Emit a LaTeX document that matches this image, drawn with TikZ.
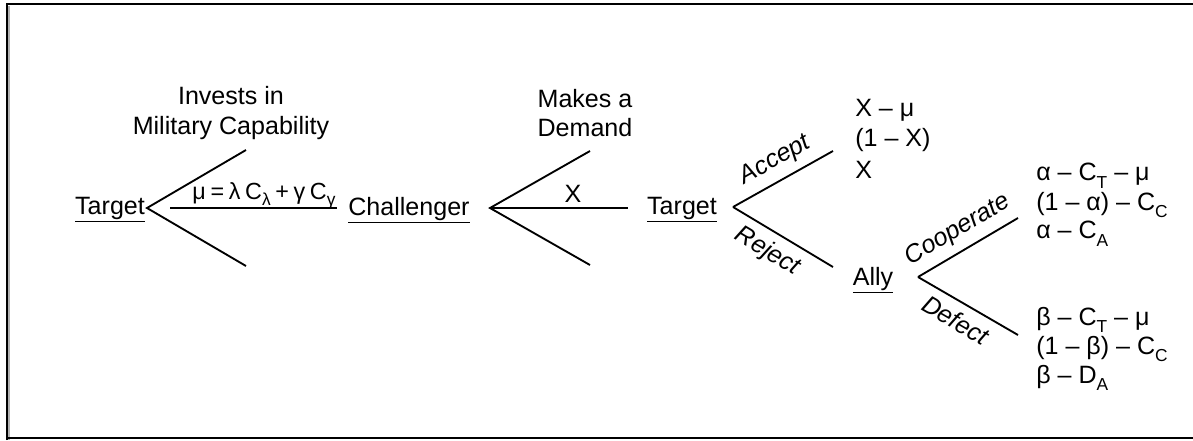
\documentclass[tikz,border=0pt]{standalone}
\usepackage{fontspec}
\setmainfont{Liberation Sans}
\newcommand\ssub[1]{\raisebox{-0.3em}{\fontsize{13}{13}\selectfont #1}}
\begin{document}
\begin{tikzpicture}[x=0.75pt,y=-0.75pt,
  br/.style={line width=1.4pt},
  hl/.style={line width=0.8pt},
  txt/.style={font=\fontsize{18.8}{22}\selectfont, inner sep=0pt},
  player/.style={txt},
  lbl/.style={txt, align=center},
  pay/.style={txt, anchor=west},
  act/.style={font=\fontsize{18.8}{22}\selectfont\itshape, inner sep=6pt}]
\useasboundingbox (0,0) rectangle (1193,440);
\fill[white] (0,0) rectangle (1193,440);
\draw[gray!60, line width=2pt] (8.5,5.5) -- (8.5,439.5);
\draw[line width=1.6pt] (7,440) -- (7,4) -- (1200,4);
\draw[line width=1.6pt] (7,438) -- (1200,438);

% players
\node[player] (t1) at (110,210) {\underline{Target}};
\node[player] (ch) at (409,210) {\underline{Challenger}};
\node[player] (t2) at (682,210) {\underline{Target}};
\node[player] (al) at (873,280) {\underline{Ally}};

% fork 1
\coordinate (f1) at (147,208);
\coordinate (f1u) at (246,150);
\coordinate (f1d) at (246,266);
\coordinate (h1a) at (170,208);
\coordinate (h1b) at (337,208);
\draw[br] (f1u) -- (f1) -- (f1d);
\draw[hl] (h1a) -- (h1b);
\node[txt, font=\fontsize{17.5}{20}\selectfont] (m1) at (264,196)
  {μ\hspace{0.2em}=\hspace{0.2em}λ\hspace{0.2em}C{\fontsize{16}{16}\selectfont\ssub{λ}}\hspace{0.2em}+\hspace{0.2em}γ\hspace{0.2em}C{\fontsize{16}{16}\selectfont\ssub{γ}}};
\node[lbl] (l1) at (231,113) {Invests in\\Military Capability};

% fork 2
\coordinate (f2) at (490,208);
\coordinate (f2u) at (590,151);
\coordinate (f2d) at (590,265);
\coordinate (h2b) at (628,208);
\draw[br] (f2u) -- (f2) -- (f2d);
\draw[hl] (f2) -- (h2b);
\node[txt] (xl) at (573,194) {X};
\node[lbl] (l2) at (585,113) {Makes a\\Demand};

% fork 3
\coordinate (f3) at (733,207);
\coordinate (f3u) at (833,151);
\coordinate (f3d) at (833,267);
\draw[br] (f3) -- node[act, sloped, above, pos=0.52] (acc) {Accept} (f3u);
\draw[br] (f3) -- node[act, sloped, below, pos=0.45] (rej) {Reject} (f3d);
\node[pay] (p1a) at (855,110) {X – μ};
\node[pay] (p1b) at (855,140) {(1 – X)};
\node[pay] (p1c) at (855,170) {X};

% fork 4
\coordinate (f4) at (918,277);
\coordinate (f4u) at (1018,218);
\coordinate (f4d) at (1018,335);
\draw[br] (f4) -- node[act, sloped, above, pos=0.5] (coo) {Cooperate} (f4u);
\draw[br] (f4) -- node[act, sloped, below, pos=0.47] (def) {Defect} (f4d);
\node[pay] (p2a) at (1036,176) {α – C\ssub{T} – μ};
\node[pay] (p2b) at (1036,205) {(1 – α) – C\ssub{C}};
\node[pay] (p2c) at (1036,234) {α – C\ssub{A}};
\node[pay] (p3a) at (1036,320) {β – C\ssub{T} – μ};
\node[pay] (p3b) at (1036,349) {(1 – β) – C\ssub{C}};
\node[pay] (p3c) at (1036,378) {β – D\ssub{A}};
\end{tikzpicture}
\end{document}
